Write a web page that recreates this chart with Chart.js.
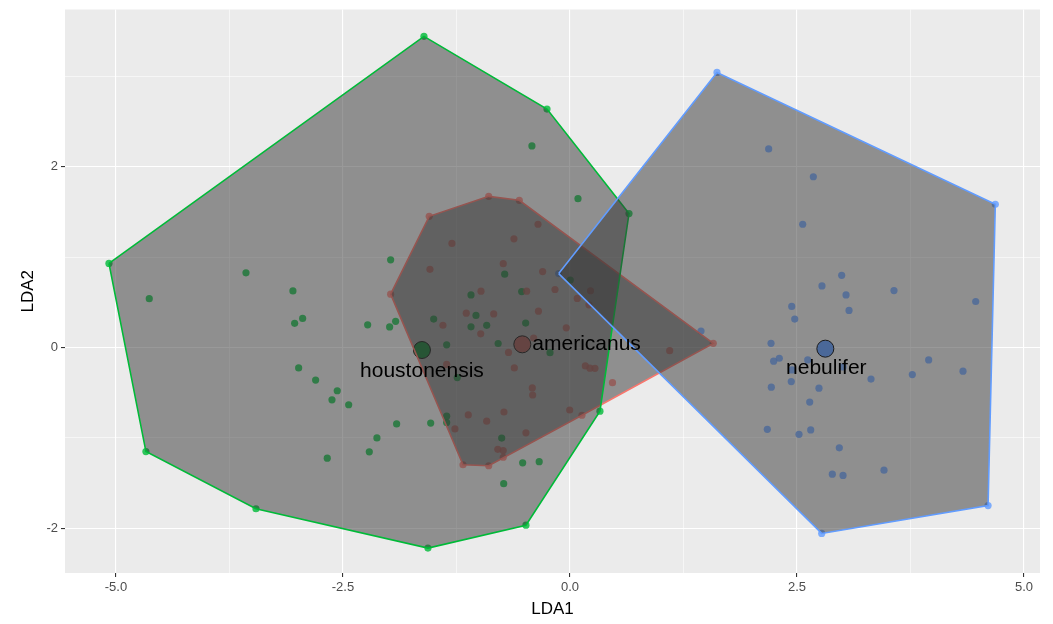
<!DOCTYPE html>
<html>
<head>
<meta charset="utf-8">
<title>LDA hulls</title>
<script src="https://cdn.jsdelivr.net/npm/chart.js@4/dist/chart.umd.min.js"></script>
<style>
  html, body { margin: 0; padding: 0; background: #ffffff; }
  #wrap { width: 1053px; height: 624px; }
</style>
</head>
<body>
<div id="wrap"><canvas id="ldaChart"></canvas></div>
<script>
// group names in factor order, with the ggplot hue colours
const species = ['americanus', 'houstonensis', 'nebulifer'];
const speciesColors = ['248,118,109', '0,186,56', '97,156,255'];

// LDA scores
const americanusLD1 = [-1.550, -0.895, -0.558, 1.578, -0.895, -1.178, -1.975,
  -0.352, -0.617, -1.300, -1.542, -0.735, -0.301, -0.980, -0.477, -0.165, 0.226,
  0.080, 0.209, -1.142, -0.840, -0.347, -1.399, -0.983, -0.041, -0.400, -0.677,
  1.098, -1.358, -0.613, 0.169, 0.220, 0.275, 0.468, -0.415, -0.411, -0.727,
  -1.120, -0.917, -1.267, -0.485, -0.003, 0.132, -0.795, -0.735, -0.735];
const americanusLD2 = [1.452, 1.673, 1.629, 0.046, -1.309, -1.298, 0.590,
  1.364, 1.203, 1.152, 0.865, 0.928, 0.840, 0.623, 0.623, 0.642, 0.628,
  0.543, 0.472, 0.380, 0.372, 0.402, 0.246, 0.151, 0.218, 0.105, -0.055,
  -0.035, -0.187, -0.226, -0.204, -0.229, -0.231, -0.389, -0.448, -0.526, -0.714,
  -0.746, -0.815, -0.901, -0.944, -0.692, -0.750, -1.127, -1.140, -1.215];

const houstonensisLD1 = [-1.608, -0.253, 0.650, 0.330, -0.485, -1.564, -3.458, -4.670, -5.077,
  -0.419, 0.088, -3.568, -3.051, -1.975, -4.633, -3.032, -2.944, -2.228, -1.986,
  -1.920, -2.988, -2.801, -2.563, -2.621, -2.437, -1.909, -2.126, -2.210, -2.673,
  -0.719, -1.090, -0.532, -1.501, -1.035, -1.090, -0.917, -0.488, -1.358, -0.791,
  -0.220, 0.003, -1.241, -1.358, -1.358, -1.534, -0.752, -0.521, -0.339, -0.730];
const houstonensisLD2 = [3.444, 2.639, 1.482, -0.705, -1.967, -2.220, -1.785, -1.152, 0.931,
  2.231, 1.647, 0.826, 0.626, 0.970, 0.540, 0.267, 0.322, 0.251, 0.228,
  0.290, -0.226, -0.361, -0.479, -0.579, -0.634, -0.846, -1.001, -1.155, -1.225,
  0.812, 0.582, 0.619, 0.314, 0.355, 0.229, 0.245, 0.270, 0.030, 0.044,
  -0.057, 0.747, -0.333, -0.760, -0.830, -0.837, -1.003, -1.276, -1.264, -1.507];

const nebuliferLD1 = [1.619, 4.684, 4.604, 2.772, -0.124,
  2.188, 2.680, 2.563, 2.992, 2.775, 3.040, 3.568, 4.468, 2.442, 3.073, 2.475,
  1.443, 2.214, 2.305, 2.243, 2.618, 3.950, 4.328, 3.770, 3.315, 2.437, 2.217,
  2.742, 2.445, 3.007, 2.640, 2.173, 2.522, 2.651, 2.966, 2.889, 3.007, 3.458];
const nebuliferLD2 = [3.044, 1.585, -1.750, -2.058, 0.818,
  2.198, 1.890, 1.364, 0.799, 0.681, 0.582, 0.630, 0.509, 0.454, 0.410, 0.314,
  0.182, 0.046, -0.119, -0.152, -0.138, -0.138, -0.262, -0.300, -0.350, -0.377, -0.439,
  -0.450, -0.248, -0.215, -0.604, -0.906, -0.961, -0.912, -1.111, -1.402, -1.416, -1.358];

// group means (big circles)
const centroidLD1 = [-0.525, -1.630, 2.812];
const centroidLD2 = [0.035, -0.028, -0.013];

// axis breaks
const xTicks = [-5, -2.5, 0, 2.5, 5];
const xMinor = [-3.75, -1.25, 1.25, 3.75];
const yTicks = [-2, 0, 2];
const yMinor = [-1, 1, 3];

const scores = [
  [americanusLD1, americanusLD2],
  [houstonensisLD1, houstonensisLD2],
  [nebuliferLD1, nebuliferLD2]
];

function toPoints(xs, ys) {
  return xs.map((x, i) => ({ x: x, y: ys[i] }));
}

// monotone chain convex hull
function convexHull(pts) {
  const p = pts.slice().sort((a, b) => a.x - b.x || a.y - b.y);
  const cross = (o, a, b) => (a.x - o.x) * (b.y - o.y) - (a.y - o.y) * (b.x - o.x);
  const lower = [];
  for (const q of p) {
    while (lower.length >= 2 && cross(lower[lower.length - 2], lower[lower.length - 1], q) <= 0) lower.pop();
    lower.push(q);
  }
  const upper = [];
  for (let i = p.length - 1; i >= 0; i--) {
    const q = p[i];
    while (upper.length >= 2 && cross(upper[upper.length - 2], upper[upper.length - 1], q) <= 0) upper.pop();
    upper.push(q);
  }
  upper.pop();
  lower.pop();
  const hull = lower.concat(upper);
  hull.push(hull[0]);
  return hull;
}

const datasets = [];

species.forEach((name, i) => {
  datasets.push({
    type: 'scatter',
    label: name,
    data: toPoints(scores[i][0], scores[i][1]),
    backgroundColor: 'rgba(' + speciesColors[i] + ',0.8)',
    borderWidth: 0,
    pointRadius: 3.6,
    order: 30
  });
});

datasets.push({
  type: 'scatter',
  label: 'centroids',
  data: toPoints(centroidLD1, centroidLD2),
  backgroundColor: speciesColors.map(c => 'rgb(' + c + ')'),
  borderColor: '#000000',
  borderWidth: 1,
  pointRadius: 8.5,
  order: 20
});

species.forEach((name, i) => {
  datasets.push({
    type: 'line',
    label: name + ' hull',
    data: convexHull(toPoints(scores[i][0], scores[i][1])),
    borderColor: 'rgb(' + speciesColors[i] + ')',
    borderWidth: 1.6,
    backgroundColor: 'rgba(51,51,51,0.5)',
    fill: 'shape',
    pointRadius: 0,
    tension: 0,
    order: 10 - i
  });
});

const panelBg = {
  id: 'panelBg',
  beforeDraw(chart) {
    const { ctx, chartArea: a } = chart;
    ctx.save();
    ctx.fillStyle = '#EBEBEB';
    ctx.fillRect(a.left, a.top, a.right - a.left, a.bottom - a.top);
    ctx.restore();
  }
};

// species names next to the means
const labelOffsets = [
  { dx: 10, dy: 0, align: 'left' },
  { dx: 0, dy: 21, align: 'center' },
  { dx: 1, dy: 20, align: 'center' }
];
const groupLabels = {
  id: 'groupLabels',
  afterDatasetsDraw(chart) {
    const { ctx, scales } = chart;
    ctx.save();
    ctx.font = '21px "Liberation Sans", Arial, sans-serif';
    ctx.fillStyle = '#000000';
    ctx.textBaseline = 'middle';
    species.forEach((name, i) => {
      const off = labelOffsets[i];
      ctx.textAlign = off.align;
      ctx.fillText(name,
        scales.x.getPixelForValue(centroidLD1[i]) + off.dx,
        scales.y.getPixelForValue(centroidLD2[i]) + off.dy);
    });
    ctx.restore();
  }
};

const tickFont = { family: '"Liberation Sans", Arial, sans-serif', size: 13 };
const titleFont = { family: '"Liberation Sans", Arial, sans-serif', size: 17 };

new Chart(document.getElementById('ldaChart'), {
  type: 'scatter',
  data: { datasets: datasets },
  plugins: [panelBg, groupLabels],
  options: {
    responsive: true,
    maintainAspectRatio: false,
    animation: false,
    events: [],
    layout: { padding: { top: 7, right: 13, left: 0, bottom: 0 } },
    plugins: {
      legend: { display: false },
      tooltip: { enabled: false }
    },
    scales: {
      x: {
        type: 'linear',
        min: -5.561,
        max: 5.176,
        afterBuildTicks: (scale) => {
          scale.ticks = xTicks.concat(xMinor).sort((a, b) => a - b).map(v => ({ value: v }));
        },
        afterFit: (scale) => {
          scale.height = 51;
          scale.paddingLeft = 0;
          scale.paddingRight = 0;
        },
        border: { display: false },
        grid: {
          color: '#FFFFFF',
          lineWidth: (c) => (c.tick && xTicks.includes(c.tick.value)) ? 1.1 : 0.55,
          tickLength: 4,
          tickWidth: 1.1,
          tickColor: (c) => (c.tick && xTicks.includes(c.tick.value)) ? '#333333' : 'rgba(0,0,0,0)'
        },
        ticks: {
          autoSkip: false,
          maxRotation: 0,
          padding: 3,
          color: '#4D4D4D',
          font: tickFont,
          callback: (v) => xTicks.includes(v) ? v.toFixed(1) : ''
        },
        title: {
          display: true,
          text: 'LDA1',
          color: '#000000',
          font: titleFont,
          padding: { top: 0, bottom: 4 }
        }
      },
      y: {
        type: 'linear',
        min: -2.496,
        max: 3.741,
        afterBuildTicks: (scale) => {
          scale.ticks = yTicks.concat(yMinor).sort((a, b) => a - b).map(v => ({ value: v }));
        },
        afterFit: (scale) => {
          scale.width = 65;
          scale.paddingTop = 0;
          scale.paddingBottom = 0;
        },
        border: { display: false },
        grid: {
          color: '#FFFFFF',
          lineWidth: (c) => (c.tick && yTicks.includes(c.tick.value)) ? 1.1 : 0.55,
          tickLength: 4,
          tickWidth: 1.1,
          tickColor: (c) => (c.tick && yTicks.includes(c.tick.value)) ? '#333333' : 'rgba(0,0,0,0)'
        },
        ticks: {
          autoSkip: false,
          padding: 3,
          color: '#4D4D4D',
          font: tickFont,
          callback: (v) => yTicks.includes(v) ? String(v) : ''
        },
        title: {
          display: true,
          text: 'LDA2',
          color: '#000000',
          font: titleFont,
          padding: { top: 18, bottom: 0 }
        }
      }
    }
  }
});
</script>
</body>
</html>
